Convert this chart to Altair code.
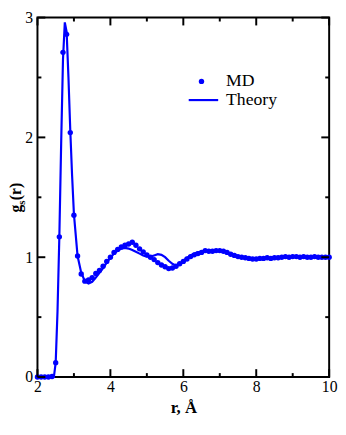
import altair as alt
import pandas as pd

# ---------------- data ----------------
md_r = [2.0, 2.1, 2.2, 2.3, 2.4, 2.5, 2.6, 2.7, 2.8, 2.9,
        3.0, 3.1, 3.2, 3.3, 3.4, 3.5, 3.6, 3.7, 3.8, 3.9,
        4.0, 4.1, 4.2, 4.3, 4.4, 4.5, 4.6, 4.7, 4.8, 4.9,
        5.0, 5.1, 5.2, 5.3, 5.4, 5.5, 5.6, 5.7, 5.8, 5.9,
        6.0, 6.1, 6.2, 6.3, 6.4, 6.5, 6.6, 6.7, 6.8, 6.9,
        7.0, 7.1, 7.2, 7.3, 7.4, 7.5, 7.6, 7.7, 7.8, 7.9,
        8.0, 8.1, 8.2, 8.3, 8.4, 8.5, 8.6, 8.7, 8.8, 8.9,
        9.0, 9.1, 9.2, 9.3, 9.4, 9.5, 9.6, 9.7, 9.8, 9.9, 10.0]
md_g = [0.0, 0.0, 0.0, 0.0, 0.005, 0.12, 1.17, 2.71, 2.86, 2.04,
        1.35, 1.01, 0.86, 0.80, 0.81, 0.83, 0.865, 0.89, 0.925, 0.965,
        1.00, 1.04, 1.065, 1.085, 1.10, 1.11, 1.125, 1.10, 1.07, 1.045,
        1.02, 1.00, 0.98, 0.955, 0.935, 0.92, 0.905, 0.91, 0.925, 0.945,
        0.965, 0.985, 1.005, 1.02, 1.03, 1.04, 1.055, 1.05, 1.05, 1.055,
        1.055, 1.05, 1.04, 1.025, 1.015, 1.005, 1.0, 0.995, 0.99, 0.985,
        0.985, 0.99, 0.99, 0.995, 0.99, 0.995, 0.995, 1.0, 1.005, 1.0,
        1.005, 1.005, 1.0, 1.005, 1.0, 1.0, 1.005, 1.0, 1.0, 1.0, 1.0]

th_r = [2.0, 2.3, 2.45, 2.5, 2.55, 2.6, 2.65, 2.7, 2.75, 2.8, 2.85, 2.9, 2.95,
        3.0, 3.1, 3.2, 3.3, 3.4, 3.5, 3.6, 3.7, 3.8, 3.9,
        4.0, 4.1, 4.2, 4.3, 4.4, 4.5, 4.6, 4.7, 4.8, 4.9,
        5.0, 5.1, 5.2, 5.3, 5.4, 5.5, 5.6, 5.7, 5.8, 5.9,
        6.0, 6.1, 6.2, 6.3, 6.4, 6.5, 6.6, 6.8, 7.0, 7.2, 7.4, 7.6, 7.8,
        8.0, 8.5, 9.0, 9.5, 10.0]
th_g = [0.0, 0.0, 0.0, 0.12, 0.55, 1.17, 1.95, 2.65, 2.96, 2.88, 2.5, 2.06, 1.68,
        1.36, 1.01, 0.87, 0.80, 0.78, 0.795, 0.83, 0.87, 0.91, 0.955,
        0.995, 1.03, 1.055, 1.072, 1.078, 1.072, 1.06, 1.045, 1.03, 1.015,
        1.005, 1.005, 1.015, 1.025, 1.02, 1.0, 0.97, 0.945, 0.93, 0.945,
        0.97, 0.995, 1.015, 1.03, 1.04, 1.045, 1.05, 1.05, 1.05, 1.04, 1.02, 1.0, 0.99,
        0.99, 0.995, 1.0, 1.0, 1.0]

x_major = [2, 4, 6, 8, 10]
x_minor = [3, 5, 7, 9]
y_major = [0, 1, 2, 3]
y_minor = [0.5, 1.5, 2.5]

legend_labels = ["MD", "Theory"]
x_title = "r, Å"
y_title_parts = ["g", "s", "(r)"]

# ---------------- chart ----------------
W, H = 297, 366
BLUE = "#0000ff"
FONT = "Liberation Serif, Times New Roman, serif"

md_df = pd.DataFrame({"r": md_r, "g": md_g})
th_df = pd.DataFrame({"r": th_r, "g": th_g})

XS = alt.Scale(domain=[2, 10], nice=False, zero=False)
YS = alt.Scale(domain=[0, 3], nice=False, zero=False)
X_AX = alt.Axis(values=x_major, labelFont=FONT, labelFontSize=16, labelColor="black",
                labelPadding=2, labelFlush=False, labelOverlap=False,
                ticks=False, tickSize=0, domain=False, grid=False,
                title=x_title, titleFont=FONT, titleFontSize=17, titleFontWeight="bold",
                titleColor="black", titleBaseline="alphabetic", titleY=36)
Y_AX = alt.Axis(values=y_major, labelFont=FONT, labelFontSize=16, labelColor="black",
                labelPadding=5, labelFlush=False, labelOverlap=False,
                ticks=False, tickSize=0, domain=False, grid=False,
                title=None)


def X():
    return alt.X("r:Q", scale=XS, axis=X_AX)


def Y():
    return alt.Y("g:Q", scale=YS, axis=Y_AX)


theory = alt.Chart(th_df).mark_line(color=BLUE, strokeWidth=2.2).encode(x=X(), y=Y())
md = alt.Chart(md_df).mark_circle(color=BLUE, size=30, opacity=1).encode(x=X(), y=Y())

layers = [theory, md]


def xticks(vals, length):
    d = pd.DataFrame({"r": vals})
    bot = alt.Chart(d).mark_rule(color="black", strokeWidth=2).encode(
        x=X(), y=alt.value(H), y2=alt.value(H - length))
    top = alt.Chart(d).mark_rule(color="black", strokeWidth=2).encode(
        x=X(), y=alt.value(0), y2=alt.value(length))
    return [bot, top]


def yticks(vals, length):
    d = pd.DataFrame({"g": vals})
    left = alt.Chart(d).mark_rule(color="black", strokeWidth=2).encode(
        y=Y(), x=alt.value(0), x2=alt.value(length))
    right = alt.Chart(d).mark_rule(color="black", strokeWidth=2).encode(
        y=Y(), x=alt.value(W), x2=alt.value(W - length))
    return [left, right]


layers += xticks(x_major, 8) + xticks(x_minor, 4) + yticks(y_major, 8) + yticks(y_minor, 4)

one = md_df.head(1)
# legend
leg_dot = alt.Chart(one).mark_circle(color=BLUE, size=30, opacity=1).encode(
    x=alt.value(167), y=alt.value(65))
leg_line = alt.Chart(one).mark_rule(color=BLUE, strokeWidth=2.2).encode(
    x=alt.value(154), x2=alt.value(184), y=alt.value(84))
leg_t1 = alt.Chart(one).mark_text(
    text=legend_labels[0], font=FONT, fontSize=18, align="left", baseline="alphabetic",
    color="black").encode(x=alt.value(192), y=alt.value(70))
leg_t2 = alt.Chart(one).mark_text(
    text=legend_labels[1], font=FONT, fontSize=18, align="left", baseline="alphabetic",
    color="black").encode(x=alt.value(192), y=alt.value(89))

# y title g_s(r), rotated
yt_g = alt.Chart(one).mark_text(
    text=y_title_parts[0], font=FONT, fontSize=16, fontWeight="bold", angle=270,
    align="left", baseline="alphabetic", color="black").encode(x=alt.value(-17), y=alt.value(198.5))
yt_s = alt.Chart(one).mark_text(
    text=y_title_parts[1], font=FONT, fontSize=11, fontWeight="bold", angle=270,
    align="left", baseline="alphabetic", color="black").encode(x=alt.value(-13), y=alt.value(190.5))
yt_r = alt.Chart(one).mark_text(
    text=y_title_parts[2], font=FONT, fontSize=16, fontWeight="bold", angle=270,
    align="left", baseline="alphabetic", color="black").encode(x=alt.value(-17), y=alt.value(186))

layers += [leg_dot, leg_line, leg_t1, leg_t2, yt_g, yt_s, yt_r]

chart = alt.layer(*layers).properties(
    width=W, height=H,
    autosize=alt.AutoSizeParams(type="none"),
    padding={"left": 30, "top": 6, "right": 9, "bottom": 40},
    background="white",
).configure_view(stroke="black", strokeWidth=2)

chart.save("out.html", embed_options={"renderer": "svg", "actions": False})
